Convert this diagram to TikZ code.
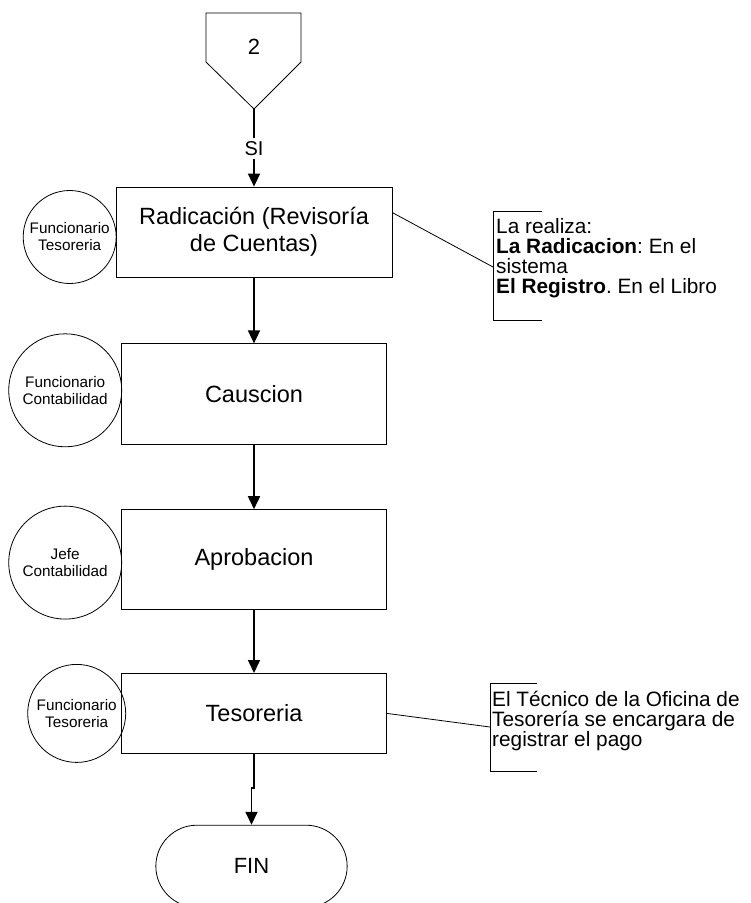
\documentclass[tikz,border=0pt]{standalone}
\usepackage{fontspec}
\setmainfont{Liberation Sans}
\frenchspacing
\usetikzlibrary{positioning,calc,arrows.meta,shapes.misc}
\tikzset{
  stepbox/.style={rectangle,draw=black,line width=0.8pt,align=center,
    font=\fontsize{23.5}{27}\selectfont},
  actor/.style={circle,draw=black,line width=0.8pt,align=center,inner sep=0pt,
    font=\fontsize{15.3}{17}\selectfont},
  note/.style={anchor=north west,inner sep=0pt,align=left,
    font=\fontsize{20.8}{20.2}\selectfont},
  endbox/.style={rounded rectangle,draw=black,line width=0.8pt,
    font=\fontsize{22}{24}\selectfont},
  link/.style={line width=0.8pt},
  arrow/.style={-{Triangle[width=12pt,length=13pt]},line width=1.6pt}
}

\begin{document}
\begin{tikzpicture}[x=1pt,y=1pt,node distance=65pt]
  \useasboundingbox (0,0) rectangle (751,-903);
  % off-page connector
  \draw[link] (206,-13) -- (301,-13) -- (301,-62) -- (254,-109) -- (206,-62) -- cycle;
  \coordinate (tip) at (254,-109);
  \node[font=\fontsize{22}{24}\selectfont] (con) at (254,-47) {2};
  \node[font=\fontsize{20}{22}\selectfont,inner sep=3pt] (si) at (254,-148.5) {SI};

  % steps
  \node[stepbox,minimum width=276pt,minimum height=90pt] (rad) at (254,-232) {Radicación (Revisoría\\de Cuentas)};
  \node[stepbox,minimum width=265pt,minimum height=101pt,below=66pt of rad] (caus) {Causcion};
  \node[stepbox,minimum width=265pt,minimum height=100pt,below=64pt of caus] (apro) {Aprobacion};
  \node[stepbox,minimum width=265pt,minimum height=80pt,below=63pt of apro] (tes) {Tesoreria};
  \node[endbox,minimum width=198pt,minimum height=82pt,below=71pt of tes,xshift=-2.5pt] (fin) {FIN};

  % responsables
  \node[actor,minimum size=93pt,left=-1pt of rad,yshift=-5pt] (act1) {Funcionario\\Tesoreria};
  \node[actor,minimum size=113pt,left=-1pt of caus,yshift=4pt] (act2) {Funcionario\\Contabilidad};
  \node[actor,minimum size=113pt,left=-1pt of apro,yshift=-3pt] (act3) {Jefe\\Contabilidad};
  \node[actor,minimum size=98pt,left=-5pt of tes] (act4) {Funcionario\\Tesoreria};

  % flow
  \draw[line width=1.6pt] (tip) -- (si);
  \draw[arrow] (si) -- (rad);
  \foreach \a/\b in {rad/caus,caus/apro,apro/tes}
    \draw[arrow] (\a) -- (\b);
  \draw[arrow] (tes.south) -- ++(0,-34) -| (fin.north);

  % notes
  \coordinate (br1) at (493,-211);
  \draw[link] ([xshift=49pt]br1) -- (br1) -- ++(0,-109) -- ++(49,0);
  \node[note] (nt1) at (496,-218) {La realiza:\\\textbf{La Radicacion}: En el\\sistema\\\textbf{El Registro}. En el Libro};
  \draw[link] ([yshift=-26pt]rad.north east) -- ([yshift=-56pt]br1);

  \coordinate (br2) at (490,-683);
  \draw[link] ([xshift=47pt]br2) -- (br2) -- ++(0,-88) -- ++(47,0);
  \node[note] (nt2) at (492,-691) {El Técnico de la Oficina de\\Tesorería se encargara de\\registrar el pago};
  \draw[link] (tes.east) -- ([yshift=-44pt]br2);
\end{tikzpicture}
\end{document}
